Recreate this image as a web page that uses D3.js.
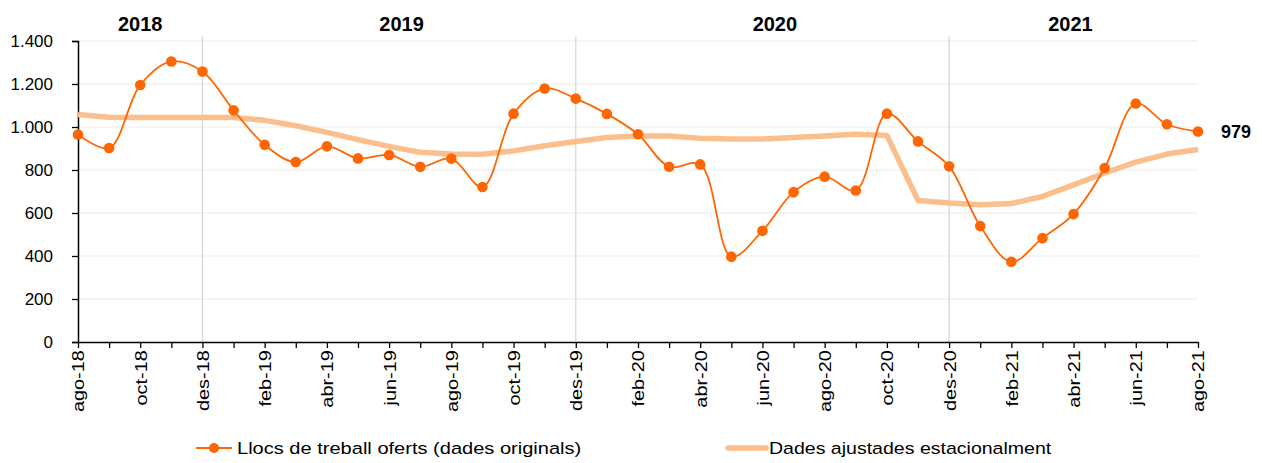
<!DOCTYPE html>
<html>
<head>
<meta charset="utf-8">
<script src="https://cdn.jsdelivr.net/npm/d3@7"></script>
<style>
  body { margin: 0; background: #fff; }
  svg { font-family: Arial, "Liberation Sans", sans-serif; }
</style>
</head>
<body>
<svg id="chart" width="1262" height="463"></svg>
<script>
// Months shown on the x axis (ago-18 .. ago-21)
var months = ["ago-18","set-18","oct-18","nov-18","des-18","gen-19","feb-19","mar-19","abr-19","mai-19","jun-19","jul-19",
  "ago-19","set-19","oct-19","nov-19","des-19","gen-20","feb-20","mar-20","abr-20","mai-20","jun-20","jul-20",
  "ago-20","set-20","oct-20","nov-20","des-20","gen-21","feb-21","mar-21","abr-21","mai-21","jun-21","jul-21","ago-21"]

// Llocs de treball oferts (dades originals)
var original = [965, 902, 1195, 1305, 1258, 1078, 917, 837, 910, 854, 870, 815,
  853, 721, 1062, 1179, 1132, 1061, 966, 815, 826, 397, 517, 697,
  769, 705, 1062, 933, 817, 539, 373, 483, 595, 809, 1109, 1013, 979]

// Dades ajustades estacionalment
var adjusted = [1058, 1045, 1044, 1044, 1044, 1044, 1031, 1006, 975, 941, 910, 882,
  874, 873, 889, 913, 933, 951, 958, 958, 948, 944, 944, 951,
  958, 966, 961, 658, 646, 638, 644, 677, 731, 786, 837, 874, 895]

var yTicks = [0, 200, 400, 600, 800, 1000, 1200, 1400]
var yearLabels = ["2018", "2019", "2020", "2021"]
var yearPos = [2, 10.4, 22.4, 31.9]      // position in months
var yearBreaks = ["des-18", "des-19", "des-20"]
var seriesNames = ["Llocs de treball oferts (dades originals)", "Dades ajustades estacionalment"]

var svg = d3.select("#chart")
var fmt = d3.formatLocale({decimal: ",", thousands: ".", grouping: [3], currency: ["", ""]}).format(",")

var x = d3.scaleLinear().domain([0, months.length - 1]).range([78, 1198])
var y = d3.scaleLinear().domain([0, 1400]).range([342, 41])

// gridlines
svg.append("g").selectAll("line")
  .data(yTicks.slice(1))
  .enter().append("line")
  .attr("x1", x(0)).attr("x2", x(months.length - 1))
  .attr("y1", function(d) { return y(d) }).attr("y2", function(d) { return y(d) })
  .attr("stroke", "#ebebeb").attr("stroke-width", 1.2)

// year separators
svg.append("g").selectAll("line")
  .data(yearBreaks)
  .enter().append("line")
  .attr("x1", function(d) { return x(months.indexOf(d)) })
  .attr("x2", function(d) { return x(months.indexOf(d)) })
  .attr("y1", 36).attr("y2", y(0))
  .attr("stroke", "#d9d9d9").attr("stroke-width", 1.3)

// year labels
svg.append("g").selectAll("text")
  .data(yearLabels)
  .enter().append("text")
  .attr("x", function(d, i) { return x(yearPos[i]) })
  .attr("y", 31)
  .attr("text-anchor", "middle")
  .style("font-size", "20px").style("font-weight", "bold")
  .text(function(d) { return d })

// y axis
var yAxis = svg.append("g")
  .attr("transform", "translate(" + x(0) + ",0)")
  .call(d3.axisLeft(y).tickValues(yTicks).tickSize(6).tickPadding(19).tickFormat(fmt))
yAxis.selectAll("text").style("font-size", "17px").attr("fill", "#000")
yAxis.selectAll("line").attr("stroke", "#000").attr("stroke-width", 1.3)
yAxis.select(".domain").attr("stroke", "#000").attr("stroke-width", 1.5)

// x axis (labels every two months, stretched a little like the original)
var xAxis = svg.append("g")
  .attr("transform", "translate(0," + y(0) + ")")
  .call(d3.axisBottom(x).tickValues(d3.range(months.length)).tickSize(6).tickSizeOuter(0)
    .tickFormat(function(i) { return i % 2 === 0 ? months[i] : "" }))
xAxis.selectAll("line").attr("stroke", "#000").attr("stroke-width", 1.3)
xAxis.select(".domain").attr("stroke", "#000").attr("stroke-width", 1.5)
xAxis.selectAll("text")
  .style("font-size", "17px").attr("fill", "#000")
  .attr("text-anchor", "end")
  .attr("transform", "rotate(-90) scale(1.17,1)")
  .attr("x", -7).attr("y", 0).attr("dy", "0.35em")

// seasonally adjusted line
var lineAdj = d3.line()
  .x(function(d, i) { return x(i) })
  .y(function(d) { return y(d) })
svg.append("path")
  .attr("d", lineAdj(adjusted))
  .attr("fill", "none").attr("stroke", "#fbbf8e").attr("stroke-width", 5.5)
  .attr("stroke-linejoin", "round")

// original line
var lineOrig = d3.line()
  .curve(d3.curveCatmullRom.alpha(0.5))
  .x(function(d, i) { return x(i) })
  .y(function(d) { return y(d) })
svg.append("path")
  .attr("d", lineOrig(original))
  .attr("fill", "none").attr("stroke", "#ff6600").attr("stroke-width", 1.8)

svg.append("g").selectAll("circle")
  .data(original)
  .enter().append("circle")
  .attr("cx", function(d, i) { return x(i) })
  .attr("cy", function(d) { return y(d) })
  .attr("r", 5.3)
  .attr("fill", "#ff6600")

// last value label
svg.append("text")
  .attr("x", x(months.length - 1) + 23)
  .attr("y", y(original[original.length - 1]))
  .attr("dy", "0.35em")
  .style("font-size", "18px").style("font-weight", "bold")
  .text(original[original.length - 1])

// legend
var legend = svg.append("g").style("font-size", "17px")
legend.append("line").attr("x1", 196).attr("x2", 232).attr("y1", 448).attr("y2", 448)
  .attr("stroke", "#ff6600").attr("stroke-width", 1.8)
legend.append("circle").attr("cx", 214).attr("cy", 448).attr("r", 5).attr("fill", "#ff6600")
legend.append("text").attr("transform", "translate(237,448) scale(1.18,1)").attr("dy", "0.35em").text(seriesNames[0])
legend.append("line").attr("x1", 728).attr("x2", 766).attr("y1", 448).attr("y2", 448)
  .attr("stroke", "#fbbf8e").attr("stroke-width", 5.5).attr("stroke-linecap", "round")
legend.append("text").attr("transform", "translate(769,448) scale(1.15,1)").attr("dy", "0.35em").text(seriesNames[1])
</script>
</body>
</html>
